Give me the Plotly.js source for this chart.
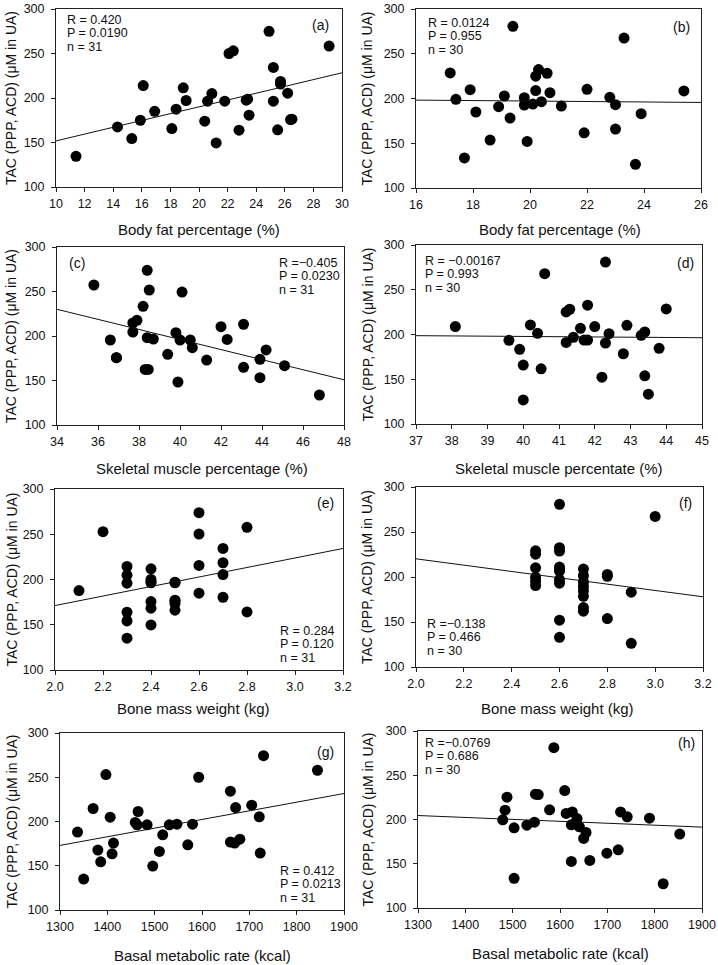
<!DOCTYPE html>
<html>
<head>
<meta charset="utf-8">
<script src="https://cdn.plot.ly/plotly-3.0.1.min.js"></script>
<style>
  html, body { margin: 0; padding: 0; background: #fff; }
  #chart { width: 718px; height: 965px; }
</style>
</head>
<body>
<div id="chart"></div>
<script>
// TAC (PPP, ACD) against body composition, two groups (left: n = 31, right: n = 30)

// (a) body fat percentage, group 1
const fatA = [11.4, 14.3, 15.3, 15.9, 16.1, 16.9, 18.1, 18.4, 18.9, 19.1, 20.4, 20.6, 20.9, 21.2, 21.8, 22.1,
  22.4, 22.8, 23.3, 23.4, 23.5, 24.9, 25.2, 25.2, 25.5, 25.7, 25.7, 26.2, 26.4, 26.5, 29.1];
const tacA = [134.5, 167.5, 154.4, 175, 214, 185, 165.7, 187.4, 211.4, 197.2, 173.9, 196.4, 205, 149.5, 196.4, 250,
  253, 163.8, 197.6, 198.7, 180.7, 274.9, 234.3, 196.4, 164.2, 218.6, 215.6, 205.4, 175.8, 176.2, 258.3];
const fitA = [151.8, 228.3];
const statsA = ["R = 0.420", "P = 0.0190", "n = 31"];

// (b) body fat percentage, group 2
const fatB = [17.2, 17.4, 17.7, 17.9, 18.1, 18.6, 18.9, 19.1, 19.3, 19.4, 19.8, 19.8, 19.9, 20.1, 20.2, 20.2,
  20.3, 20.4, 20.6, 20.7, 21.1, 21.9, 22.0, 22.8, 23.0, 23.0, 23.3, 23.7, 23.9, 25.4];
const tacB = [228.6, 199.1, 133.6, 209.9, 184.9, 153.5, 190.8, 202.8, 178.1, 280.6, 200.9, 192.7, 152, 193.8, 224.9, 208.8,
  232.3, 196.4, 228.2, 206.5, 191.6, 161.7, 210.3, 201.3, 193.1, 165.8, 267.5, 126.5, 183, 208.4];
const fitB = [198.2, 195.6];
const statsB = ["R = 0.0124", "P = 0.955", "n = 30"];

// (c) skeletal muscle percentage, group 1
const muscleC = [35.8, 36.6, 36.9, 36.9, 37.7, 37.7, 37.9, 38.2, 38.3, 38.4, 38.4, 38.45, 38.5, 38.7, 39.4, 39.8,
  39.9, 40.0, 40.1, 40.5, 40.6, 41.3, 42.0, 42.3, 43.1, 43.1, 43.9, 43.9, 44.2, 45.1, 46.8];
const tacC = [257.3, 195.5, 175.7, 175.7, 214.6, 204.5, 217.6, 233.3, 162.5, 273.8, 198.1, 162.5, 251.7, 196.6, 179.4, 203.7,
  148.3, 195.5, 249.4, 195.5, 186.9, 173, 210.5, 196.1, 213.1, 164.8, 173.8, 153.2, 184.3, 166.6, 133.7];
const fitC = [230.0, 150.8];
const statsC = ["R =\u22120.405", "P = 0.0230", "n = 31"];

// (d) skeletal muscle percentage, group 2
const muscleD = [38.1, 39.6, 39.9, 40.0, 40.0, 40.2, 40.4, 40.5, 40.6, 41.2, 41.2, 41.3, 41.4, 41.6, 41.7, 41.8,
  41.8, 42.0, 42.2, 42.3, 42.3, 42.4, 42.8, 42.9, 43.3, 43.4, 43.4, 43.5, 43.8, 44.0];
const tacD = [208.8, 193.5, 183.4, 165.8, 126.9, 210.7, 201.3, 161.7, 267.9, 225.2, 191.2, 228.2, 196.8, 206.9, 193.8, 193.8,
  232.7, 208.8, 152.3, 190.5, 280.9, 200.9, 178.5, 210.3, 199.1, 202.8, 153.8, 133.3, 184.5, 228.6];
const fitD = [198.7, 196.4];
const statsD = ["R = \u22120.00167", "P = 0.993", "n = 30"];

// (e) bone mass weight, group 1
const boneE = [2.1, 2.2, 2.3, 2.3, 2.3, 2.3, 2.3, 2.3, 2.4, 2.4, 2.4, 2.4, 2.4, 2.4, 2.4, 2.5,
  2.5, 2.5, 2.5, 2.5, 2.5, 2.6, 2.6, 2.6, 2.6, 2.7, 2.7, 2.7, 2.7, 2.8, 2.8];
const tacE = [187.8, 252.8, 214.4, 204.8, 195.9, 163.8, 154.2, 135.1, 211.8, 200, 197.4, 196.4, 175.6, 168.3, 149.8, 197,
  196.4, 177.1, 176.5, 173.4, 166.1, 273.8, 250.2, 215.5, 184.9, 234.3, 218.5, 205.5, 180.4, 257.6, 164.2];
const fitE = [171.2, 234.3];
const statsE = ["R = 0.284", "P = 0.120", "n = 31"];

// (f) bone mass weight, group 2
const boneF = [2.5, 2.5, 2.5, 2.5, 2.5, 2.5, 2.6, 2.6, 2.6, 2.6, 2.6, 2.6, 2.6, 2.6, 2.6, 2.6,
  2.7, 2.7, 2.7, 2.7, 2.7, 2.7, 2.7, 2.7, 2.8, 2.8, 2.8, 2.9, 2.9, 3.0];
const tacF = [229.1, 225.4, 210.2, 199.8, 195.4, 190.5, 280.7, 232.5, 228.8, 211, 208.5, 206.5, 197.2, 193.1, 152, 133,
  208.8, 201.5, 194.5, 189.5, 184.5, 178.5, 166, 162, 202.8, 200.8, 153.8, 183.1, 126.3, 267.3];
const fitF = [220.2, 178.0];
const statsF = ["R =\u22120.138", "P = 0.466", "n = 30"];

// (g) basal metabolic rate, group 1
const bmrG = [1337, 1350, 1370, 1380, 1386, 1397, 1406, 1410, 1413, 1459, 1463, 1465, 1484, 1496, 1510, 1517,
  1531, 1547, 1570, 1580, 1593, 1660, 1660, 1669, 1671, 1680, 1705, 1721, 1723, 1730, 1844];
const tacG = [188, 135, 214.7, 167.7, 154.5, 253, 204.9, 163.5, 175.6, 198.9, 196.2, 211.3, 196.2, 149.6, 166.2, 185,
  196.2, 197, 173.7, 197, 250, 234.2, 176.7, 175.6, 215.8, 180, 218.4, 205.3, 164.3, 274.4, 257.9];
const fitG = [173.0, 231.6];
const statsG = ["R = 0.412", "P = 0.0213", "n = 31"];

// (h) basal metabolic rate, group 2
const bmrH = [1479, 1484, 1488, 1503, 1503, 1530, 1546, 1548, 1554, 1578, 1587, 1610, 1613, 1624, 1624, 1626,
  1636, 1641, 1650, 1655, 1663, 1699, 1723, 1728, 1742, 1789, 1818, 1853];
const tacH = [199.6, 210.5, 225.2, 190.6, 133.5, 193.6, 197, 228.6, 228.2, 210.9, 281.2, 232.7, 206.8, 194, 152.6, 208.6,
  201.1, 191.7, 178.6, 185.3, 153.8, 162, 165.8, 208.6, 203, 201.5, 127.4, 183.5];
const fitH = [204.5, 191.4];
const statsH = ["R =\u22120.0769", "P = 0.686", "n = 30"];

const yTitle = "TAC (PPP, ACD) (\u03bcM in UA)";

// page geometry in pixels
const W = 718, H = 965;
const FONT = "Liberation Sans, Arial, Helvetica, sans-serif";

// each panel: data, axis setup and pixel box [left, right, top, bottom]
const panels = [
  { tag: "(a)", x: fatA, y: tacA, fit: fitA, stats: statsA, range: [10, 30], dtick: 2, fmt: "",
    xTitle: "Body fat percentage (%)", box: [56, 342, 9, 187],
    statPos: [65, 20], tagPos: [320, 25], xTitlePos: [199, 230], yTitleX: 11 },
  { tag: "(b)", x: fatB, y: tacB, fit: fitB, stats: statsB, range: [16, 26], dtick: 2, fmt: "",
    xTitle: "Body fat percentage (%)", box: [416, 701, 9, 188],
    statPos: [426, 23], tagPos: [681, 27], xTitlePos: [560, 230], yTitleX: 367 },
  { tag: "(c)", x: muscleC, y: tacC, fit: fitC, stats: statsC, range: [34, 48], dtick: 2, fmt: "",
    xTitle: "Skeletal muscle percentage (%)", box: [57, 344, 247, 425],
    statPos: [277, 263], tagPos: [77, 263], xTitlePos: [202, 468], yTitleX: 11 },
  { tag: "(d)", x: muscleD, y: tacD, fit: fitD, stats: statsD, range: [37, 45], dtick: 1, fmt: "",
    xTitle: "Skeletal muscle percentate (%)", box: [416, 702, 245, 424],
    statPos: [423, 261], tagPos: [685, 263], xTitlePos: [559, 468], yTitleX: 367 },
  { tag: "(e)", x: boneE, y: tacE, fit: fitE, stats: statsE, range: [2.0, 3.2], dtick: 0.2, fmt: ".1f",
    xTitle: "Bone mass weight (kg)", box: [55, 343, 489, 670],
    statPos: [278, 631], tagPos: [325, 503], xTitlePos: [193, 708], yTitleX: 11 },
  { tag: "(f)", x: boneF, y: tacF, fit: fitF, stats: statsF, range: [2.0, 3.2], dtick: 0.2, fmt: ".1f",
    xTitle: "Bone mass weight (kg)", box: [416, 703, 487, 667],
    statPos: [425, 624], tagPos: [685, 503], xTitlePos: [557, 708], yTitleX: 367 },
  { tag: "(g)", x: bmrG, y: tacG, fit: fitG, stats: statsG, range: [1300, 1900], dtick: 100, fmt: "",
    xTitle: "Basal metabolic rate (kcal)", box: [60, 344, 733, 910],
    statPos: [278, 871], tagPos: [325, 752], xTitlePos: [202, 955], yTitleX: 11 },
  { tag: "(h)", x: bmrH, y: tacH, fit: fitH, stats: statsH, range: [1300, 1900], dtick: 100, fmt: "",
    xTitle: "Basal metabolic rate (kcal)", box: [418, 702, 731, 908],
    statPos: [423, 743], tagPos: [686, 743], xTitlePos: [560, 953], yTitleX: 367 }
];

const px = v => v / W;
const py = v => 1 - v / H;

const traces = [];
const annotations = [];
const layout = {
  width: W, height: H,
  margin: { l: 0, r: 0, t: 0, b: 0 },
  paper_bgcolor: "#fff", plot_bgcolor: "#fff",
  showlegend: false,
  font: { family: FONT, color: "#111", size: 12 },
  annotations: annotations
};

panels.forEach((p, i) => {
  const n = i === 0 ? "" : String(i + 1);
  const xa = "x" + n, ya = "y" + n;
  const [l, r, t, b] = p.box;

  const axisCommon = {
    showgrid: false, zeroline: false,
    showline: true, linecolor: "#222", linewidth: 1, mirror: true,
    ticks: "outside", ticklen: 4, tickwidth: 1, tickcolor: "#222",
    tickfont: { family: FONT, size: 12.5, color: "#111" },
    fixedrange: true
  };
  layout["xaxis" + n] = Object.assign({}, axisCommon, {
    domain: [px(l), px(r)], anchor: ya,
    range: p.range, tick0: p.range[0], dtick: p.dtick, tickformat: p.fmt,
    ticklabelstandoff: 1
  });
  layout["yaxis" + n] = Object.assign({}, axisCommon, {
    domain: [py(b), py(t)], anchor: xa,
    range: [100, 300], tick0: 100, dtick: 50,
    ticklabelstandoff: 4
  });

  // scatter of individual subjects
  traces.push({
    type: "scatter", mode: "markers", xaxis: xa, yaxis: ya,
    x: p.x, y: p.y,
    marker: { color: "#000", size: 11, line: { width: 0 } },
    cliponaxis: false, hoverinfo: "x+y"
  });
  // linear regression across the full axis span
  traces.push({
    type: "scatter", mode: "lines", xaxis: xa, yaxis: ya,
    x: p.range, y: p.fit,
    line: { color: "#111", width: 1 }, hoverinfo: "skip"
  });

  // R / P / n block
  p.stats.forEach((s, k) => {
    annotations.push({
      xref: "paper", yref: "paper",
      x: px(p.statPos[0]), y: py(p.statPos[1] + k * 13.4),
      xanchor: "left", yanchor: "middle", showarrow: false,
      text: s, font: { family: FONT, size: 12.5, color: "#111" }
    });
  });
  // panel tag
  annotations.push({
    xref: "paper", yref: "paper",
    x: px(p.tagPos[0]), y: py(p.tagPos[1]),
    xanchor: "center", yanchor: "middle", showarrow: false,
    text: p.tag, font: { family: FONT, size: 14, color: "#111" }
  });
  // axis titles
  annotations.push({
    xref: "paper", yref: "paper",
    x: px(p.xTitlePos[0]), y: py(p.xTitlePos[1]),
    xanchor: "center", yanchor: "middle", showarrow: false,
    text: p.xTitle, font: { family: FONT, size: 15, color: "#111" }
  });
  annotations.push({
    xref: "paper", yref: "paper",
    x: px(p.yTitleX), y: py((t + b) / 2),
    xanchor: "center", yanchor: "middle", showarrow: false, textangle: -90,
    text: yTitle, font: { family: FONT, size: 14, color: "#111" }
  });
});

Plotly.newPlot("chart", traces, layout, { displayModeBar: false, staticPlot: true });
</script>
</body>
</html>
